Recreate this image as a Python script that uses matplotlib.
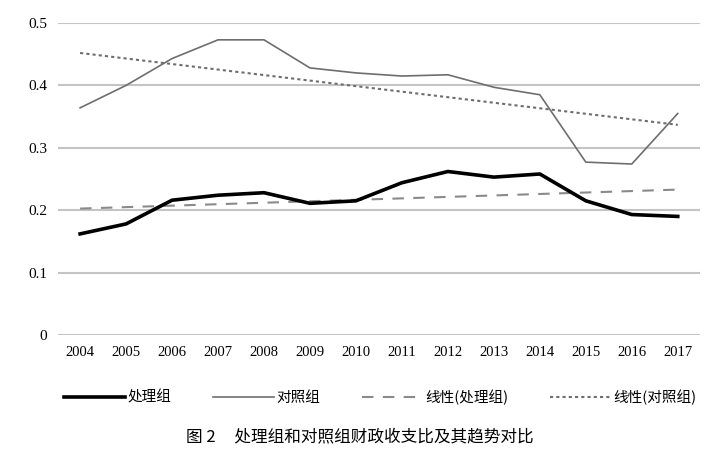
import matplotlib
matplotlib.use("Agg")
import matplotlib.pyplot as plt
import numpy as np

years = [2004, 2005, 2006, 2007, 2008, 2009, 2010, 2011, 2012, 2013, 2014, 2015, 2016, 2017]
treat = [0.162, 0.178, 0.216, 0.224, 0.228, 0.211, 0.215, 0.244, 0.262, 0.253, 0.258, 0.215, 0.193, 0.190]
control = [0.364, 0.400, 0.443, 0.473, 0.473, 0.428, 0.420, 0.415, 0.417, 0.397, 0.385, 0.277, 0.274, 0.355]
yticks = [0, 0.1, 0.2, 0.3, 0.4, 0.5]
ytick_labels = ["0", "0.1", "0.2", "0.3", "0.4", "0.5"]

plt.rcParams["font.family"] = ["Liberation Serif", "DejaVu Serif"]
cjk = ["Noto Sans CJK SC", "DejaVu Sans"]

fig = plt.figure(figsize=(7.2, 4.58), dpi=100)
ax = fig.add_axes([0.0806, 0.2686, 0.8914, 0.6812])

x = np.arange(len(years))
# linear trend lines (like Excel's 线性 trendline)
t_fit = np.polyval(np.polyfit(x, treat, 1), x)
c_fit = np.polyval(np.polyfit(x, control, 1), x)

l1, = ax.plot(x, treat, color="black", lw=2.6, label="处理组", zorder=4)
l2, = ax.plot(x, control, color="#6e6e6e", lw=1.2, label="对照组", zorder=3)
l3, = ax.plot(x, t_fit, color="#8a8a8a", lw=1.5, ls=(0, (5.5, 4.5)), label="线性(处理组)", zorder=3)
l4, = ax.plot(x, c_fit, color="#6e6e6e", lw=1.5, ls=(0, (1.5, 1.5)), label="线性(对照组)", zorder=3)

ax.set_xlim(-0.48, len(years) - 0.52)
ax.set_ylim(0, 0.5)
ax.set_yticks(yticks)
ax.set_yticklabels(ytick_labels, fontsize=11)
ax.set_xticks(x)
ax.set_xticklabels([str(y) for y in years], fontsize=10.5)
ax.grid(axis="y", color="#c4c4c4", lw=1.5)
ax.set_axisbelow(True)
ax.tick_params(length=0, pad=8)
for s in ax.spines.values():
    s.set_visible(False)

leg = fig.legend(handles=[l1, l2, l3, l4], loc="center", bbox_to_anchor=(0.528, 0.133),
                 ncol=4, frameon=False, handlelength=4.2, handletextpad=0.15,
                 columnspacing=2.85, prop={"family": cjk, "size": 10.5})

fig.text(0.5, 0.046, "图 2     处理组和对照组财政收支比及其趋势对比", ha="center", va="center",
         fontfamily=cjk, fontsize=12)

fig.savefig("out.png", dpi=100)
